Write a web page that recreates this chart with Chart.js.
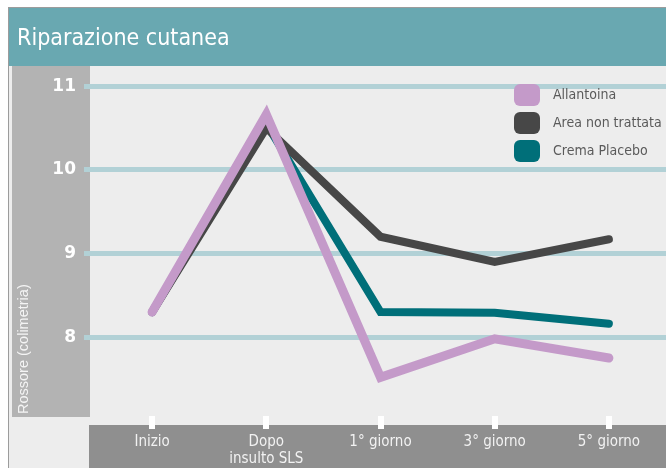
<!DOCTYPE html>
<html>
<head>
<meta charset="utf-8">
<script src="https://cdn.jsdelivr.net/npm/chart.js@4.4.1/dist/chart.umd.min.js"></script>
<style>
  html, body { margin: 0; padding: 0; background: #fff; }
  #wrap { width: 666px; height: 468px; }
</style>
</head>
<body>
<div id="wrap"><canvas id="grafico" width="666" height="468"></canvas></div>
<script>
// Dati: rossore misurato con colorimetro nei vari momenti
var titolo = 'Riparazione cutanea';
var titoloY = 'Rossore (colimetria)';
var momenti = ['Inizio', ['Dopo', 'insulto SLS'], '1° giorno', '3° giorno', '5° giorno'];
var allantoina = [8.3, 10.66, 7.52, 7.98, 7.75];
var nonTrattata = [8.3, 10.5, 9.2, 8.9, 9.17];
var placebo = [8.3, 10.55, 8.3, 8.29, 8.16];
var valoriAsseY = [8, 9, 10, 11];
var nomiSerie = ['Allantoina', 'Area non trattata', 'Crema Placebo'];

var NARROW = '"Liberation Sans Narrow", "DejaVu Sans Condensed", "Roboto", sans-serif';

// Sfondi, titoli, tacche dell'asse x e legenda disegnati a mano
var cornice = {
    id: 'cornice',
    beforeDraw: function (chart) {
        var c = chart.ctx, a = chart.chartArea, W = chart.width, H = chart.height;
        c.save();
        c.fillStyle = '#ffffff'; c.fillRect(0, 0, W, H);
        c.fillStyle = '#9c9c9c';
        c.fillRect(8, 7, W - 8, 1);
        c.fillRect(8, 7, 1, H - 7);
        c.fillStyle = '#ededed'; c.fillRect(9, 66, W - 9, H - 66);
        c.fillStyle = '#69a8b1'; c.fillRect(9, 8, W - 9, 58);
        c.fillStyle = '#b3b3b3'; c.fillRect(12, 66, 78, a.bottom - 8 - 66);
        c.fillStyle = '#8f8f8f'; c.fillRect(89, a.bottom, W - 89, H - a.bottom);
        c.fillStyle = '#ffffff';
        c.font = '23px ' + NARROW;
        c.textBaseline = 'middle';
        c.fillText(titolo, 17, 39);
        // titolo dell'asse y, in basso a sinistra
        c.translate(28, 414);
        c.rotate(-Math.PI / 2);
        c.font = '14.5px "Liberation Sans", Arial, sans-serif';
        c.fillStyle = '#f4f4f4';
        c.textBaseline = 'alphabetic';
        c.fillText(titoloY, 0, 0);
        c.restore();
    },
    beforeDatasetsDraw: function (chart) {
        var c = chart.ctx, a = chart.chartArea, x = chart.scales.x;
        c.save();
        c.fillStyle = '#ffffff';
        for (var i = 0; i < momenti.length; i++) {
            var px = Math.round(x.getPixelForTick(i));
            c.fillRect(px - 3, a.bottom - 9, 6, 13);
        }
        c.restore();
    },
    afterDraw: function (chart) {
        var c = chart.ctx;
        c.save();
        c.font = '14px ' + NARROW;
        c.textBaseline = 'middle';
        chart.data.datasets.forEach(function (ds, i) {
            var y = 95 + i * 28;
            c.fillStyle = ds.borderColor;
            c.beginPath();
            c.roundRect(514, y - 11, 26, 22, 6);
            c.fill();
            c.fillStyle = '#5a5a5a';
            c.fillText(ds.label, 553, y);
        });
        c.restore();
    }
};

var ctx = document.getElementById('grafico').getContext('2d');
var grafico = new Chart(ctx, {
    type: 'line',
    data: {
        labels: momenti,
        datasets: [
            { label: nomiSerie[0], data: allantoina, borderColor: '#c49ac9', backgroundColor: '#c49ac9', borderWidth: 9 },
            { label: nomiSerie[1], data: nonTrattata, borderColor: '#474747', backgroundColor: '#474747', borderWidth: 8 },
            { label: nomiSerie[2], data: placebo, borderColor: '#006f79', backgroundColor: '#006f79', borderWidth: 8 }
        ]
    },
    options: {
        responsive: false, animation: false,
        layout: { padding: { top: 66, left: 0, right: 0, bottom: 0 } },
        elements: {
            point: { radius: 0 },
            line: { tension: 0, borderCapStyle: 'round', borderJoinStyle: 'miter' }
        },
        plugins: { legend: { display: false }, tooltip: { enabled: false } },
        scales: {
            x: {
                offset: true,
                grid: { display: false },
                border: { display: false },
                ticks: { color: '#f2f2f2', font: { family: NARROW, size: 15, lineHeight: 1.15 }, padding: 0, maxRotation: 0, autoSkip: false },
                afterFit: function (s) { s.height = 43; }
            },
            y: {
                min: 6.95, max: 11.24,
                border: { display: false },
                grid: { color: '#b2d1d6', lineWidth: 5, tickLength: 11 },
                ticks: { color: '#ffffff', font: { family: '"DejaVu Sans", sans-serif', size: 17, weight: 'bold' }, padding: 8 },
                afterBuildTicks: function (s) { s.ticks = valoriAsseY.map(function (v) { return { value: v }; }); },
                afterFit: function (s) { s.width = 95; }
            }
        }
    },
    plugins: [cornice]
});
</script>
</body>
</html>
